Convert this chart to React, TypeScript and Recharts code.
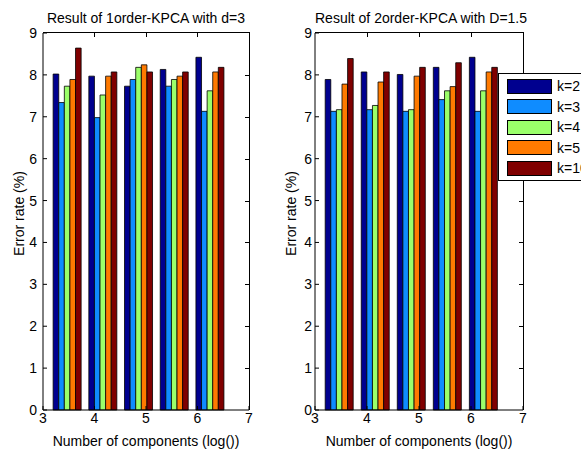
import { BarChart, Bar, XAxis, YAxis } from "recharts";

// number of components (x is plotted as log())
const components = [32, 64, 128, 256, 512];

const kLabels = ["k=2", "k=3", "k=4", "k=5", "k=10"];
const kColors = ["#00008f", "#0f8cff", "#9bff6a", "#ff7a00", "#800000"];

// Result of 1order-KPCA with d=3
const first_k2 = [8.02, 7.97, 7.73, 8.13, 8.42];
const first_k3 = [7.34, 6.98, 7.89, 7.73, 7.13];
const first_k4 = [7.73, 7.52, 8.18, 7.89, 7.62];
const first_k5 = [7.89, 7.97, 8.24, 7.97, 8.07];
const first_k10 = [8.64, 8.07, 8.07, 8.07, 8.18];

// Result of 2order-KPCA with D=1.5
const second_k2 = [7.89, 8.07, 8.01, 8.18, 8.42];
const second_k3 = [7.13, 7.17, 7.13, 7.41, 7.13];
const second_k4 = [7.17, 7.27, 7.17, 7.62, 7.62];
const second_k5 = [7.78, 7.83, 7.97, 7.72, 8.07];
const second_k10 = [8.39, 8.07, 8.18, 8.29, 8.18];

const xTicks = [3, 4, 5, 6, 7];
const yTicks = [0, 1, 2, 3, 4, 5, 6, 7, 8, 9];

const FONT = "'Liberation Sans', Arial, sans-serif";

const PLOT_TOP = 33;
const PLOT_H = 377;

function buildRows(series: number[][]) {
  return components.map((c, i) => {
    const row: Record<string, number> = { x: Math.log(c) };
    series.forEach((s, j) => {
      row["s" + j] = s[i];
    });
    return row;
  });
}

const firstRows = buildRows([first_k2, first_k3, first_k4, first_k5, first_k10]);
const secondRows = buildRows([second_k2, second_k3, second_k4, second_k5, second_k10]);

interface PanelProps {
  title: string;
  rows: Record<string, number>[];
  left: number;
  width: number;
  yAxisWidth: number;
  marginRight: number;
  yTickMargin: number;
}

function Panel({ title, rows, left, width, yAxisWidth, marginRight, yTickMargin }: PanelProps) {
  const tickStyle = { fill: "#000", fontSize: 14, fontFamily: FONT };
  const plotLeft = yAxisWidth;
  const plotRight = width - marginRight;
  const plotW = plotRight - plotLeft;
  return (
    <div style={{ position: "absolute", left, top: 0, width, height: 452 }}>
      <div
        style={{
          position: "absolute",
          left: plotLeft,
          width: plotW,
          top: 10,
          textAlign: "center",
          fontSize: 14,
          lineHeight: "16px",
          whiteSpace: "nowrap",
          color: "#000",
        }}
      >
        {title}
      </div>
      <BarChart
        width={width}
        height={452}
        data={rows}
        margin={{ top: PLOT_TOP, right: marginRight, bottom: 0, left: 0 }}
        barGap={0}
      >
        <XAxis
          dataKey="x"
          type="number"
          domain={[3, 7]}
          ticks={xTicks}
          interval={0}
          allowDataOverflow
          height={42}
          tickSize={-4}
          tickMargin={7}
          tick={tickStyle}
          stroke="#000"
          label={{
            value: "Number of components (log())",
            position: "insideBottom",
            offset: 6,
            fill: "#000",
            fontSize: 14,
            fontFamily: FONT,
          }}
        />
        <YAxis
          type="number"
          domain={[0, 9]}
          ticks={yTicks}
          interval={0}
          width={yAxisWidth}
          tickSize={-4}
          tickMargin={yTickMargin}
          tick={tickStyle}
          stroke="#000"
          label={{
            content: ({ viewBox }: any) => {
              const cx = viewBox.x + viewBox.width - 24;
              const cy = viewBox.y + viewBox.height / 2 - 8;
              return (
                <text
                  x={cx}
                  y={cy}
                  transform={`rotate(-90 ${cx} ${cy})`}
                  textAnchor="middle"
                  dominantBaseline="central"
                  fill="#000"
                  fontSize={14}
                  fontFamily={FONT}
                >
                  Error rate (%)
                </text>
              );
            },
          }}
        />
        {kLabels.map((k, j) => (
          <Bar
            key={k}
            dataKey={"s" + j}
            name={k}
            fill={kColors[j]}
            stroke="#000"
            strokeWidth={0.8}
            barSize={5.6}
            isAnimationActive={false}
          />
        ))}
      </BarChart>
      {/* MATLAB-style box: top and right edges with inward ticks */}
      <div
        style={{
          position: "absolute",
          left: plotLeft,
          top: PLOT_TOP - 1,
          width: plotW + 1,
          height: PLOT_H + 1,
          boxSizing: "border-box",
          borderTop: "1px solid #000",
          borderRight: "1px solid #000",
          pointerEvents: "none",
        }}
      >
        {xTicks.slice(1, -1).map((t) => (
          <div
            key={"tx" + t}
            style={{
              position: "absolute",
              left: ((t - 3) / 4) * plotW - 0.5,
              top: 0,
              width: 1,
              height: 4,
              background: "#000",
            }}
          />
        ))}
        {yTicks.slice(1, -1).map((t) => (
          <div
            key={"ty" + t}
            style={{
              position: "absolute",
              right: 0,
              top: (1 - t / 9) * PLOT_H,
              width: 4,
              height: 1,
              background: "#000",
            }}
          />
        ))}
      </div>
    </div>
  );
}

export default function App() {
  return (
    <div
      style={{
        position: "absolute",
        left: 0,
        top: 0,
        width: 581,
        height: 452,
        overflow: "hidden",
        background: "#fff",
        fontFamily: FONT,
      }}
    >
      <Panel
        title="Result of 1order-KPCA with d=3"
        rows={firstRows}
        left={0}
        width={290}
        yAxisWidth={43}
        marginRight={41}
        yTickMargin={10}
      />
      <Panel
        title="Result of 2order-KPCA with D=1.5"
        rows={secondRows}
        left={270}
        width={311}
        yAxisWidth={45}
        marginRight={58}
        yTickMargin={7}
      />
      <div
        style={{
          position: "absolute",
          left: 498,
          top: 73,
          width: 120,
          height: 108,
          boxSizing: "border-box",
          border: "1px solid #000",
          background: "#fff",
        }}
      >
        {kLabels.map((k, j) => (
          <div
            key={k}
            style={{
              position: "absolute",
              left: 8,
              top: 4 + j * 20.5,
              display: "flex",
              alignItems: "center",
              whiteSpace: "nowrap",
            }}
          >
            <span
              style={{
                display: "inline-block",
                width: 45,
                height: 15,
                boxSizing: "border-box",
                background: kColors[j],
                border: "1px solid #000",
              }}
            />
            <span style={{ marginLeft: 5, fontSize: 14, color: "#000" }}>{k}</span>
          </div>
        ))}
      </div>
    </div>
  );
}
